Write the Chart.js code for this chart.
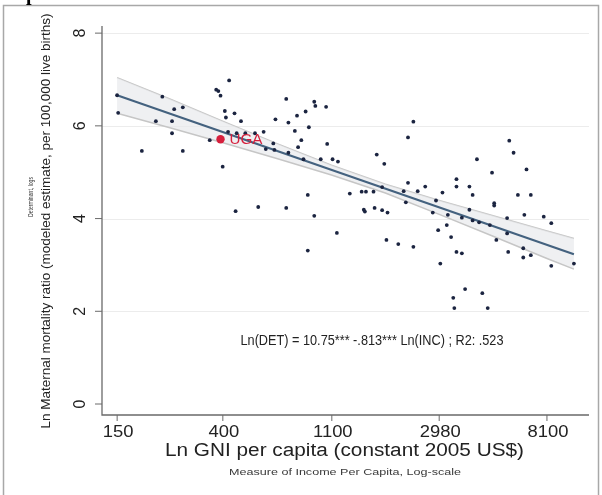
<!DOCTYPE html>
<html>
<head>
<meta charset="utf-8">
<script src="https://cdn.jsdelivr.net/npm/chart.js@4.4.1/dist/chart.umd.min.js"></script>
<style>
  html, body { margin: 0; padding: 0; background: #fff; }
  #wrap { position: relative; width: 602px; height: 495px; }
</style>
</head>
<body>
<div id="wrap"><canvas id="c" width="602" height="495"></canvas></div>
<script>
// valeurs (x = ln du RNB par habitant, y = ln du taux de mortalité maternelle)
const lnGni = [
  5.01, 5.02, 5.24, 5.43, 5.37, 5.54, 5.52, 5.52, 5.62, 5.62,
  5.87, 5.93, 5.95, 5.97, 6.05, 5.99, 6.01, 6.02, 6.10, 6.04,
  6.16, 6.12, 6.20, 6.29, 6.37, 6.39, 6.46, 6.47, 6.58, 6.48,
  6.60, 6.66, 6.72, 6.69, 6.60, 6.74, 6.68, 6.76, 6.79, 6.84,
  6.85, 6.95, 6.96, 6.90, 7.01, 7.06, 6.78, 6.84, 7.05, 6.78,
  6.32, 6.11, 6.58, 7.17, 7.42, 7.49, 7.76, 7.71, 7.71, 7.47,
  7.87, 8.35, 8.49, 8.65, 8.69, 8.81, 8.16, 8.16, 8.28, 7.80,
  7.67, 7.28, 7.32, 7.39, 8.03, 8.31, 8.73, 8.85, 8.51, 8.51,
  7.69, 7.97, 7.30, 7.31, 7.40, 7.47, 7.52, 7.94, 8.08, 8.28,
  8.21, 8.31, 8.37, 8.47, 8.63, 8.79, 8.97, 9.04, 8.07, 7.99,
  8.11, 8.63, 8.53, 7.51, 7.62, 7.76, 8.16, 8.21, 8.01, 8.64,
  8.78, 8.78, 8.85, 9.04, 9.25, 8.24, 8.40, 8.13, 8.14, 8.45
];
const lnMmr = [
  6.66, 6.28, 5.46, 6.63, 6.10, 6.36, 6.10, 5.84, 6.40, 5.46,
  5.69, 6.78, 6.75, 6.65, 6.98, 5.12, 6.32, 6.18, 6.27, 5.87,
  6.10, 5.84, 5.84, 5.84, 5.87, 5.50, 5.62, 5.48, 6.58, 6.14,
  6.07, 5.89, 5.69, 5.54, 5.42, 5.28, 6.22, 6.31, 5.97, 6.52,
  6.43, 6.41, 5.61, 5.28, 5.28, 5.23, 4.51, 4.06, 3.69, 3.31,
  4.25, 4.16, 4.23, 4.54, 5.38, 5.18, 6.09, 5.75, 4.77, 4.68,
  4.69, 5.28, 4.99, 5.68, 5.42, 5.06, 4.85, 4.69, 4.69, 4.59,
  4.59, 4.58, 4.58, 4.58, 4.56, 4.51, 4.51, 4.51, 4.33, 4.28,
  4.35, 4.39, 4.19, 4.15, 4.23, 4.18, 4.13, 4.13, 4.08, 4.19,
  4.02, 3.96, 3.92, 3.86, 4.01, 4.08, 4.04, 3.90, 3.86, 3.75,
  3.60, 3.68, 3.54, 3.54, 3.45, 3.39, 3.28, 3.25, 3.03, 3.28,
  3.36, 3.16, 3.21, 2.98, 3.03, 2.48, 2.39, 2.29, 2.07, 2.07
];
const highlightLabel = 'UGA';
const highlightX = [5.97];
const highlightY = [5.71];

// droite d'ajustement et intervalle de confiance
const fitX = [5.01, 9.25];
const fitY = [6.66, 3.23];
const bandX = [5.01, 5.5, 6.0, 6.5, 7.0, 7.5, 8.0, 8.5, 9.0, 9.25];
const bandUpper = [7.04, 6.58, 6.09, 5.61, 5.15, 4.74, 4.39, 4.06, 3.73, 3.57];
const bandLower = [6.27, 5.96, 5.63, 5.29, 4.94, 4.55, 4.09, 3.62, 3.14, 2.91];

// axes
const xTickLabels = [150, 400, 1100, 2980, 8100];
const yTickLabels = [0, 2, 4, 6, 8];
const yGrid = [2, 4, 6, 8];

const xTitle = 'Ln GNI per capita (constant 2005 US$)';
const xNote = 'Measure of Income Per Capita, Log-scale';
const yTitle = 'Ln Maternal mortality ratio (modeled estimate, per 100,000 live births)';
const yNote = 'Determinant, logs';
const equation = 'Ln(DET) = 10.75*** -.813*** Ln(INC) ; R2: .523';

const FONT = '"Liberation Sans", Arial, Helvetica, sans-serif';
const TXT = '#222';

const pts = (xs, ys) => xs.map((x, i) => ({ x, y: ys[i] }));

// texte avec largeur forcée (l'image d'origine est un peu étirée)
function text(ctx, s, x, y, size, o = {}){
  ctx.save();
  ctx.font = `${size}px ${FONT}`;
  ctx.fillStyle = o.color || TXT;
  ctx.textBaseline = 'middle';
  ctx.translate(x, y);
  if(o.rotate) ctx.rotate(o.rotate);
  const w = ctx.measureText(s).width;
  const sx = o.width ? o.width / w : (o.sx || 1);
  ctx.scale(sx, 1);
  ctx.textAlign = o.align || 'center';
  ctx.fillText(s, 0, 0);
  ctx.restore();
}

const decor = {
  id: 'decor',
  beforeDraw(chart){
    const { ctx, chartArea: a, scales: { y } } = chart;
    ctx.save();
    // cadre extérieur
    ctx.strokeStyle = '#a8a8a8';
    ctx.lineWidth = 1.5;
    ctx.strokeRect(3.5, 5.5, 595, 495);
    // grille
    ctx.strokeStyle = '#ececec';
    ctx.lineWidth = 1.2;
    yGrid.forEach(v => {
      const py = Math.round(y.getPixelForValue(v)) + 0.5;
      ctx.beginPath(); ctx.moveTo(a.left, py); ctx.lineTo(a.right, py); ctx.stroke();
    });
    ctx.restore();
  },
  afterDraw(chart){
    const { ctx, chartArea: a, scales: { x, y } } = chart;
    ctx.save();
    // axes
    ctx.strokeStyle = '#6a6a6a';
    ctx.lineWidth = 1.3;
    ctx.beginPath();
    ctx.moveTo(a.left, a.top + 4); ctx.lineTo(a.left, a.bottom); ctx.lineTo(a.right, a.bottom);
    ctx.stroke();
    ctx.lineWidth = 1;
    xTickLabels.forEach(v => {
      const px = x.getPixelForValue(Math.log(v));
      ctx.beginPath(); ctx.moveTo(px, a.bottom); ctx.lineTo(px, a.bottom + 6); ctx.stroke();
      text(ctx, String(v), px + 1, a.bottom + 18, 16, { sx: 1.15 });
    });
    yTickLabels.forEach(v => {
      const py = y.getPixelForValue(v);
      ctx.beginPath(); ctx.moveTo(a.left, py); ctx.lineTo(a.left - 7, py); ctx.stroke();
      text(ctx, String(v), a.left - 21, py, 16, { rotate: -Math.PI / 2 });
    });
    ctx.restore();

    text(ctx, xTitle, 344.5, 451, 18, { width: 359 });
    text(ctx, xNote, 345, 472, 9.5, { width: 232, color: '#3a3a3a' });
    text(ctx, yTitle, 46, 221, 13, { rotate: -Math.PI / 2, width: 415 });
    text(ctx, yNote, 31, 197, 6.5, { rotate: -Math.PI / 2, width: 40, color: '#333' });
    text(ctx, equation, 372, 341, 14, { width: 263 });

    const hx = x.getPixelForValue(highlightX[0]);
    const hy = y.getPixelForValue(highlightY[0]);
    text(ctx, highlightLabel, hx + 9, hy + 1, 14, { align: 'left', width: 33, color: '#d61f3c' });

    // fragment de lettre en haut à gauche
    ctx.save();
    ctx.font = `bold 20px "Liberation Serif", serif`;
    ctx.fillStyle = '#000';
    ctx.textBaseline = 'alphabetic';
    ctx.fillText('p', 26, 0);
    ctx.restore();
  }
};

new Chart(document.getElementById('c'), {
  type: 'scatter',
  data: {
    datasets: [
      {
        type: 'line', label: 'upper', data: pts(bandX, bandUpper),
        borderColor: '#c6c6c6', borderWidth: 1.5, pointRadius: 0, fill: false, order: 5
      },
      {
        type: 'line', label: 'lower', data: pts(bandX, bandLower),
        borderColor: '#c6c6c6', borderWidth: 1.5, pointRadius: 0,
        backgroundColor: 'rgba(232,234,237,0.7)', fill: '-1', order: 4
      },
      {
        type: 'line', label: 'fit', data: pts(fitX, fitY),
        borderColor: '#44627f', borderWidth: 2.2, pointRadius: 0, fill: false, order: 3
      },
      {
        label: 'pays', data: pts(lnGni, lnMmr),
        backgroundColor: '#1b2440', borderWidth: 0, pointRadius: 1.9, order: 2
      },
      {
        label: highlightLabel, data: pts(highlightX, highlightY),
        backgroundColor: '#d61f3c', borderWidth: 0, pointRadius: 4.2, order: 1
      }
    ]
  },
  options: {
    responsive: false,
    animation: false,
    layout: { padding: { left: 102, right: 13, top: 22, bottom: 80 } },
    scales: {
      x: { type: 'linear', min: 4.87, max: 9.39, display: false },
      y: { type: 'linear', min: -0.237, max: 8.24, display: false }
    },
    plugins: {
      legend: { display: false },
      tooltip: { enabled: false }
    }
  },
  plugins: [decor]
});
</script>
</body>
</html>
